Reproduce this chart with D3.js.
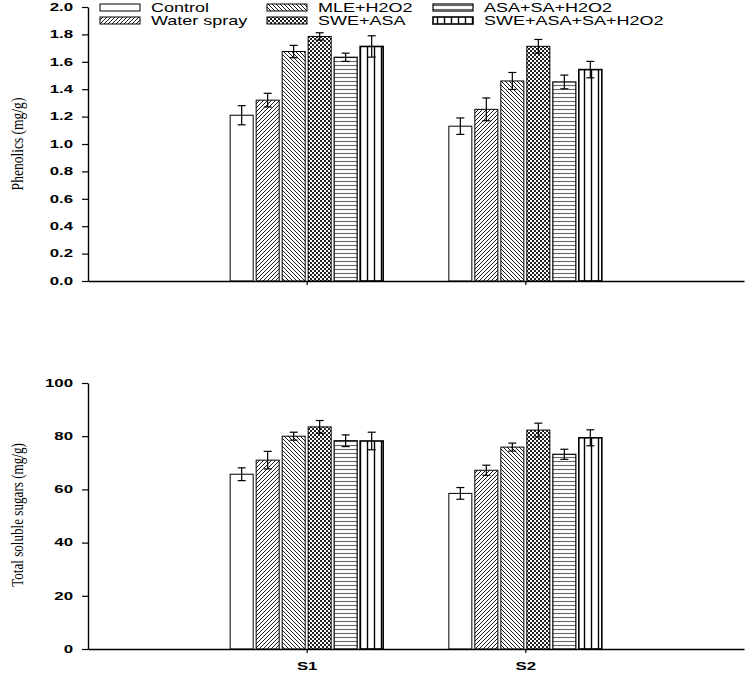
<!DOCTYPE html>
<html><head><meta charset="utf-8">
<script src="https://cdn.jsdelivr.net/npm/d3@7"></script>
<style>
html,body{margin:0;padding:0;background:#fff;}
svg{display:block;}
</style>
</head><body>
<svg id="chart" width="750" height="673"></svg>
<script>
// ---- data ----
const groups = ["S1", "S2"];
const treatments = ["Control", "Water spray", "MLE+H2O2", "SWE+ASA", "ASA+SA+H2O2", "SWE+ASA+SA+H2O2"];

const phenolicsS1 = [1.21, 1.32, 1.675, 1.785, 1.633, 1.712];
const phenolicsS1Err = [0.07, 0.05, 0.045, 0.027, 0.03, 0.078];
const phenolicsS2 = [1.13, 1.253, 1.46, 1.713, 1.453, 1.543];
const phenolicsS2Err = [0.06, 0.083, 0.062, 0.05, 0.05, 0.06];

const sugarsS1 = [65.7, 71.0, 80.0, 83.5, 78.3, 78.2];
const sugarsS1Err = [2.4, 3.3, 1.5, 2.4, 2.2, 3.3];
const sugarsS2 = [58.5, 67.2, 75.9, 82.3, 73.2, 79.4];
const sugarsS2Err = [2.2, 1.9, 1.5, 2.6, 1.9, 3.0];

const phenolicsTicks = [0, 0.2, 0.4, 0.6, 0.8, 1.0, 1.2, 1.4, 1.6, 1.8, 2.0];
const sugarsTicks = [0, 20, 40, 60, 80, 100];

const phenolicsTitle = "Phenolics (mg/g)";
const sugarsTitle = "Total soluble sugars (mg/g)";

// ---- drawing ----
const svg = d3.select("#chart");
const defs = svg.append("defs");

function pat(id, w, h, build) {
  const p = defs.append("pattern").attr("id", id).attr("patternUnits", "userSpaceOnUse")
    .attr("width", w).attr("height", h);
  p.append("rect").attr("width", w).attr("height", h).attr("fill", "#fff");
  build(p);
}
pat("p1", 4, 4, p => p.append("path").attr("d", "M-1,1 l2,-2 M0,4 l4,-4 M3,5 l2,-2")
  .attr("stroke", "#000").attr("stroke-width", 0.9));
pat("p2", 4, 4, p => p.append("path").attr("d", "M-1,3 l2,2 M0,0 l4,4 M3,-1 l2,2")
  .attr("stroke", "#000").attr("stroke-width", 0.9));
pat("p3", 4, 4, p => {
  p.append("rect").attr("x", 0).attr("y", 0).attr("width", 2).attr("height", 2).attr("fill", "#222");
  p.append("rect").attr("x", 2).attr("y", 2).attr("width", 2).attr("height", 2).attr("fill", "#222");
});
pat("p4", 4, 4, p => p.append("line").attr("x1", 0).attr("x2", 4).attr("y1", 1.5).attr("y2", 1.5)
  .attr("stroke", "#666").attr("stroke-width", 1.1));
pat("p5", 7, 7, p => p.append("line").attr("x1", 3.5).attr("x2", 3.5).attr("y1", 0).attr("y2", 7)
  .attr("stroke", "#000").attr("stroke-width", 1.4));

const fills = ["#fff", "url(#p1)", "url(#p2)", "url(#p3)", "url(#p4)", "url(#p5)"];
const strokeW = [1, 1, 1, 1, 1.2, 1.6];

const x0 = d3.scalePoint().domain(groups).range([88, 744]).padding(1);
const x1 = d3.scaleBand().domain(treatments).range([-76.5, 76.5]).paddingInner(0.115);

const SX = 1.6; // horizontal stretch of the labels

function panel(cfg) {
  const y = d3.scaleLinear().domain(cfg.domain).range([cfg.y0, cfg.y1]);
  const g = svg.append("g");

  const rows = [];
  groups.forEach((gname, gi) => {
    treatments.forEach((t, ti) => {
      rows.push({g: gname, t: t, i: ti, v: cfg.vals[gi][ti], e: cfg.errs[gi][ti]});
    });
  });

  g.selectAll("rect.bar").data(rows).join("rect").attr("class", "bar")
    .attr("x", d => x0(d.g) + x1(d.t))
    .attr("width", x1.bandwidth())
    .attr("y", d => y(d.v))
    .attr("height", d => y(0) - y(d.v))
    .attr("fill", d => fills[d.i])
    .attr("stroke", "#000")
    .attr("stroke-width", d => strokeW[d.i]);

  const eb = g.selectAll("g.err").data(rows).join("g").attr("class", "err")
    .attr("stroke", "#000").attr("stroke-width", 1.2);
  const cx = d => x0(d.g) + x1(d.t) + x1.bandwidth() / 2;
  eb.append("line").attr("x1", cx).attr("x2", cx)
    .attr("y1", d => y(d.v + d.e)).attr("y2", d => y(d.v - d.e));
  eb.append("line").attr("x1", d => cx(d) - 4).attr("x2", d => cx(d) + 4)
    .attr("y1", d => y(d.v + d.e)).attr("y2", d => y(d.v + d.e));
  eb.append("line").attr("x1", d => cx(d) - 4).attr("x2", d => cx(d) + 4)
    .attr("y1", d => y(d.v - d.e)).attr("y2", d => y(d.v - d.e));

  // y axis
  const ya = g.append("g").attr("transform", `translate(88,0)`)
    .call(d3.axisLeft(y).tickValues(cfg.ticks).tickFormat(cfg.fmt).tickSize(6).tickSizeOuter(0));
  ya.select(".domain").attr("stroke-width", 1.4);
  ya.selectAll(".tick line").attr("stroke-width", 1.2);
  ya.selectAll(".tick text")
    .attr("x", -15 / SX)
    .attr("transform", `scale(${SX},1)`)
    .attr("font-family", "Liberation Sans, Arial, sans-serif")
    .attr("font-weight", "bold")
    .attr("font-size", 10.5)
    .attr("fill", "#000");

  // x axis
  const xa = g.append("g").attr("transform", `translate(0,${cfg.y0})`)
    .call(d3.axisBottom(x0).tickSize(4).tickSizeOuter(0).tickFormat(cfg.showX ? (d => d) : (() => "")));
  xa.select(".domain").attr("stroke-width", 1.4);
  xa.selectAll(".tick line").attr("stroke-width", 1.2);
  xa.selectAll(".tick text")
    .attr("y", 14)
    .attr("font-family", "Liberation Sans, Arial, sans-serif")
    .attr("font-weight", "bold")
    .attr("font-size", 10.5)
    .attr("fill", "#000")
    .each(function(d) {
      d3.select(this).attr("x", 0).attr("transform", `scale(${SX},1)`);
    });

  // y title
  svg.append("text")
    .attr("transform", `translate(${cfg.titleX},${cfg.titleY}) rotate(-90) scale(0.82,1)`)
    .attr("text-anchor", "middle")
    .attr("dominant-baseline", "central")
    .attr("font-family", "Liberation Serif, Times New Roman, serif")
    .attr("font-size", cfg.titleSize)
    .text(cfg.title);
}

panel({domain: [0, 2], y0: 281, y1: 7, ticks: phenolicsTicks, fmt: d3.format(".1f"),
  vals: [phenolicsS1, phenolicsS2], errs: [phenolicsS1Err, phenolicsS2Err],
  showX: false, title: phenolicsTitle, titleX: 18, titleY: 144, titleSize: 16.5});

panel({domain: [0, 100], y0: 649, y1: 383, ticks: sugarsTicks, fmt: d3.format("d"),
  vals: [sugarsS1, sugarsS2], errs: [sugarsS1Err, sugarsS2Err],
  showX: true, title: sugarsTitle, titleX: 18, titleY: 515, titleSize: 16});

// legend
const legCols = [100, 267, 433];
const legRows = [4, 17];
const leg = svg.append("g");
treatments.forEach((t, i) => {
  const cx = legCols[Math.floor(i / 2)], cy = legRows[i % 2];
  leg.append("rect").attr("x", cx).attr("y", cy).attr("width", 40).attr("height", 7)
    .attr("fill", fills[i]).attr("stroke", "#000").attr("stroke-width", strokeW[i]);
  leg.append("text")
    .attr("transform", `translate(${cx + 51},${cy + 3.5}) scale(1.5,1)`)
    .attr("dominant-baseline", "central")
    .attr("font-family", "Liberation Sans, Arial, sans-serif")
    .attr("font-size", 12)
    .text(t);
});
</script>
</body></html>
